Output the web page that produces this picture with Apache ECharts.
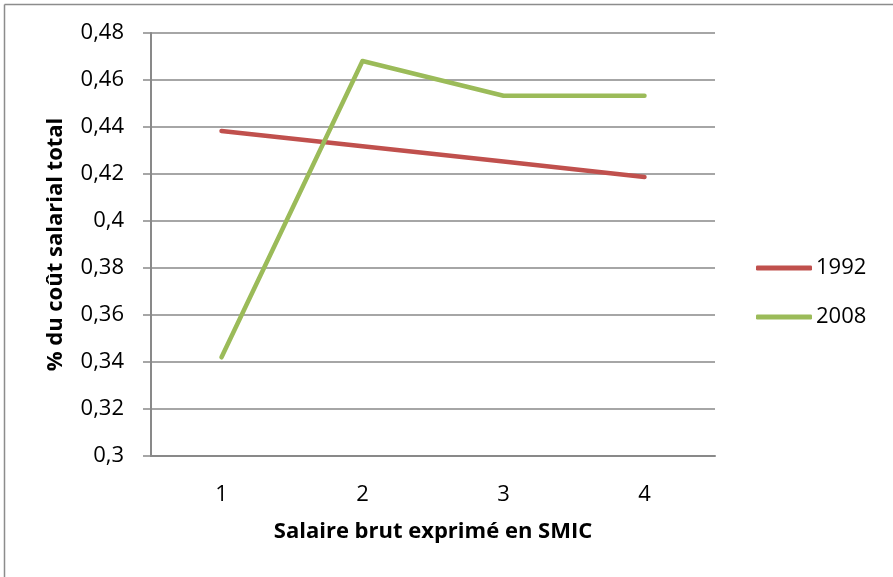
<!DOCTYPE html>
<html>
<head>
<meta charset="utf-8">
<script src="https://cdn.jsdelivr.net/npm/echarts@6/dist/echarts.min.js"></script>
<style>
html,body{margin:0;padding:0;background:#fff;}
#chart{width:893px;height:577px;}
</style>
</head>
<body>
<div id="chart"></div>
<script>
const categories = ['1', '2', '3', '4'];
const series1992 = [0.4383, 0.4318, 0.4253, 0.4187];
const series2008 = [0.3420, 0.4681, 0.4533, 0.4533];
const seriesNames = ['1992', '2008'];
const yTicks = {min: 0.3, max: 0.48, interval: 0.02};

const FONT = 'Open Sans';
const chart = echarts.init(document.getElementById('chart'));
const grey = '#898989';
chart.setOption({
  animation: false,
  backgroundColor: '#fff',
  textStyle: {fontFamily: FONT, color: '#000'},
  graphic: [
    {type: 'line', shape: {x1: 4.5, y1: 4.5, x2: 4.5, y2: 600}, style: {stroke: '#8c8c8c', lineWidth: 1.5}},
    {type: 'line', shape: {x1: 4.5, y1: 4.5, x2: 900, y2: 4.5}, style: {stroke: '#8c8c8c', lineWidth: 1.5}}
  ],
  grid: {left: 151, top: 33, width: 564, height: 423, containLabel: false},
  legend: {
    orient: 'vertical', left: 756, top: 257, padding: 0, itemWidth: 56, itemHeight: 5, itemGap: 27,
    icon: 'roundRect',
    textStyle: {fontFamily: FONT, fontSize: 22, color: '#000', lineHeight: 22, padding: [0,0,0,-1]},
    data: seriesNames
  },
  xAxis: {
    type: 'category', data: categories, boundaryGap: true,
    name: 'Salaire brut exprimé en SMIC', nameLocation: 'middle', nameGap: 65,
    nameMoveOverlap: false,
    nameTextStyle: {fontFamily: FONT, fontSize: 22, fontWeight: 'bold', color: '#000'},
    axisLine: {lineStyle: {color: grey, width: 2}},
    axisTick: {show: false},
    axisLabel: {fontFamily: FONT, fontSize: 22, color: '#000', margin: 28}
  },
  yAxis: {
    type: 'value', min: yTicks.min, max: yTicks.max, interval: yTicks.interval,
    name: '% du coût salarial total', nameLocation: 'middle', nameGap: 84,
    nameTextStyle: {fontFamily: FONT, fontSize: 22, fontWeight: 'bold', color: '#000'},
    axisLine: {show: true, lineStyle: {color: grey, width: 2}},
    axisTick: {show: true, length: 8, lineStyle: {color: grey, width: 1.5}},
    splitLine: {show: true, lineStyle: {color: grey, width: 1.5}},
    axisLabel: {
      fontFamily: FONT, fontSize: 22, color: '#000', margin: 27,
      formatter: v => parseFloat(v.toFixed(2)).toString().replace('.', ',')
    }
  },
  series: [
    {name: seriesNames[0], type: 'line', data: series1992, showSymbol: false, symbol: 'none',
     color: '#C0504D', lineStyle: {width: 4.5, cap: 'round', join: 'round'}},
    {name: seriesNames[1], type: 'line', data: series2008, showSymbol: false, symbol: 'none',
     color: '#9BBB59', lineStyle: {width: 4.5, cap: 'round', join: 'round'}}
  ]
});
</script>
</body>
</html>
